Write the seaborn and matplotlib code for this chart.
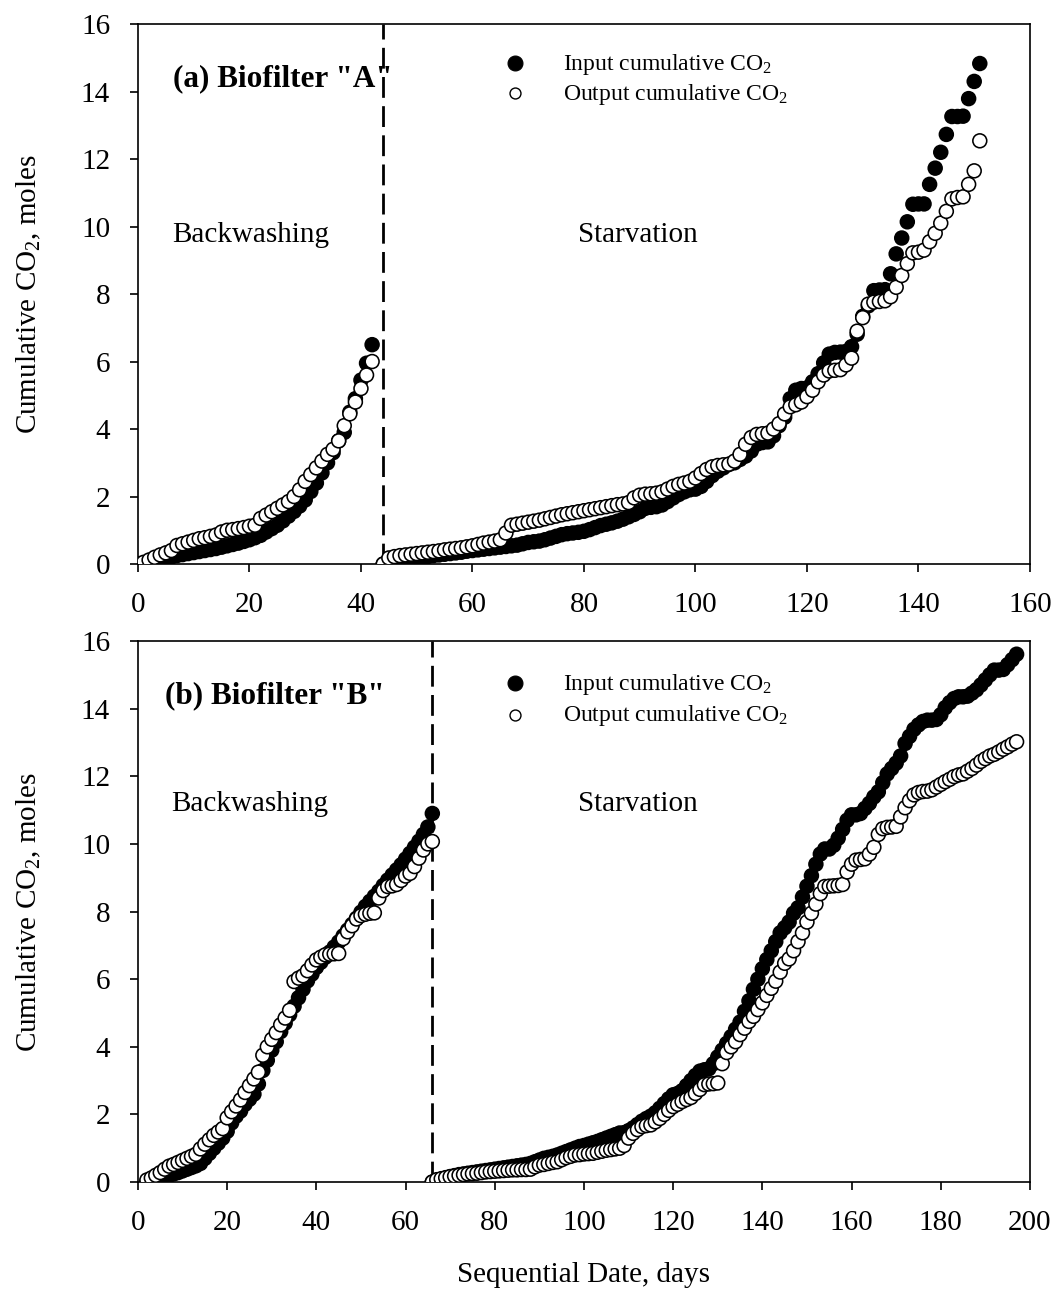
import numpy as np
import pandas as pd
import matplotlib
matplotlib.use("Agg")
import matplotlib.pyplot as plt
import seaborn as sns

# ---------------- data: cumulative CO2 (moles) per day ----------------
# Biofilter A, backwashing phase (days 0-42)
a_back_start = 0
a_back_input = [0.00, 0.03, 0.07, 0.10, 0.14, 0.18, 0.21, 0.25, 0.28, 0.31,
                0.34, 0.37, 0.40, 0.43, 0.46, 0.50, 0.54, 0.58, 0.62, 0.67,
                0.72, 0.78, 0.85, 0.95, 1.05, 1.15, 1.28, 1.42, 1.56, 1.72,
                1.90, 2.15, 2.40, 2.70, 3.00, 3.30, 3.65, 3.90, 4.50, 4.90,
                5.45, 5.95, 6.50]
a_back_output = [0.00, 0.05, 0.12, 0.20, 0.27, 0.33, 0.40, 0.55, 0.60, 0.65,
                 0.70, 0.75, 0.78, 0.82, 0.86, 0.95, 1.00, 1.02, 1.05, 1.08,
                 1.12, 1.15, 1.35, 1.45, 1.55, 1.65, 1.75, 1.85, 2.00, 2.20,
                 2.45, 2.65, 2.85, 3.05, 3.25, 3.40, 3.65, 4.10, 4.45, 4.80,
                 5.20, 5.60, 6.00]
# Biofilter A, starvation phase (days 44-151)
a_starv_start = 44
a_starv_input = [0.00, 0.03, 0.06, 0.09, 0.12, 0.15, 0.17, 0.20, 0.22, 0.25,
                 0.27, 0.29, 0.31, 0.33, 0.35, 0.38, 0.40, 0.42, 0.44, 0.46,
                 0.48, 0.50, 0.52, 0.54, 0.56, 0.60, 0.64, 0.66, 0.68, 0.72,
                 0.77, 0.82, 0.87, 0.90, 0.92, 0.94, 0.97, 1.02, 1.08, 1.14,
                 1.18, 1.22, 1.27, 1.33, 1.40, 1.47, 1.55, 1.65, 1.68, 1.70,
                 1.75, 1.85, 1.96, 2.06, 2.14, 2.20, 2.22, 2.30, 2.45, 2.62,
                 2.75, 2.85, 2.95, 3.00, 3.10, 3.20, 3.35, 3.55, 3.60, 3.62,
                 3.80, 4.10, 4.35, 4.90, 5.15, 5.20, 5.22, 5.40, 5.64, 5.96,
                 6.22, 6.27, 6.28, 6.30, 6.44, 6.81, 7.34, 7.65, 8.10, 8.12,
                 8.13, 8.60, 9.19, 9.66, 10.14, 10.66, 10.67, 10.67, 11.25, 11.73,
                 12.20, 12.73, 13.26, 13.26, 13.27, 13.79, 14.30, 14.83]
a_starv_output = [0.00, 0.18, 0.22, 0.25, 0.27, 0.29, 0.31, 0.33, 0.35, 0.37,
                  0.39, 0.42, 0.44, 0.46, 0.48, 0.51, 0.54, 0.58, 0.62, 0.65,
                  0.68, 0.72, 0.92, 1.15, 1.18, 1.21, 1.24, 1.27, 1.30, 1.34,
                  1.38, 1.42, 1.46, 1.49, 1.52, 1.55, 1.58, 1.61, 1.64, 1.67,
                  1.70, 1.73, 1.76, 1.78, 1.82, 1.96, 2.04, 2.07, 2.08, 2.10,
                  2.14, 2.22, 2.30, 2.36, 2.40, 2.45, 2.55, 2.68, 2.80, 2.88,
                  2.92, 2.94, 2.96, 3.05, 3.25, 3.55, 3.75, 3.84, 3.86, 3.88,
                  4.00, 4.16, 4.45, 4.66, 4.72, 4.80, 4.96, 5.15, 5.40, 5.60,
                  5.72, 5.74, 5.76, 5.90, 6.10, 6.90, 7.30, 7.70, 7.76, 7.78,
                  7.80, 7.92, 8.20, 8.55, 8.90, 9.22, 9.24, 9.30, 9.55, 9.80,
                  10.10, 10.45, 10.82, 10.86, 10.88, 11.25, 11.65, 12.54]

# Biofilter B, backwashing phase (days 2-66)
b_back_start = 2
b_back_input = [0.00, 0.04, 0.08, 0.12, 0.16, 0.20, 0.24, 0.28, 0.33, 0.38,
                0.43, 0.48, 0.55, 0.70, 0.85, 1.00, 1.15, 1.30, 1.50, 1.75,
                1.95, 2.10, 2.30, 2.45, 2.60, 2.90, 3.30, 3.60, 3.90, 4.15,
                4.45, 4.70, 4.95, 5.20, 5.45, 5.70, 5.95, 6.15, 6.35, 6.50,
                6.65, 6.80, 6.95, 7.10, 7.28, 7.45, 7.62, 7.80, 7.98, 8.15,
                8.30, 8.45, 8.60, 8.77, 8.93, 9.08, 9.23, 9.38, 9.55, 9.72,
                9.90, 10.08, 10.28, 10.50, 10.90]
b_back_output = [0.06, 0.12, 0.20, 0.28, 0.38, 0.47, 0.52, 0.58, 0.64, 0.70,
                 0.76, 0.82, 0.98, 1.12, 1.25, 1.38, 1.48, 1.58, 1.90, 2.08,
                 2.25, 2.43, 2.65, 2.85, 3.05, 3.25, 3.75, 4.00, 4.22, 4.42,
                 4.65, 4.85, 5.08, 5.93, 6.03, 6.10, 6.25, 6.42, 6.57, 6.65,
                 6.72, 6.74, 6.75, 6.76, 7.20, 7.40, 7.58, 7.78, 7.88, 7.92,
                 7.95, 7.96, 8.40, 8.62, 8.74, 8.76, 8.80, 8.92, 9.05, 9.13,
                 9.33, 9.58, 9.82, 10.00, 10.07]
# Biofilter B, starvation phase (days 66-197)
b_starv_start = 66
b_starv_input = [0.00, 0.04, 0.08, 0.12, 0.16, 0.19, 0.22, 0.24, 0.26, 0.28,
                 0.30, 0.32, 0.34, 0.36, 0.38, 0.40, 0.42, 0.44, 0.46, 0.48,
                 0.50, 0.52, 0.55, 0.60, 0.65, 0.70, 0.73, 0.76, 0.80, 0.85,
                 0.90, 0.95, 1.00, 1.05, 1.08, 1.12, 1.16, 1.20, 1.25, 1.30,
                 1.35, 1.40, 1.45, 1.46, 1.52, 1.60, 1.70, 1.80, 1.88, 1.95,
                 2.05, 2.18, 2.32, 2.46, 2.58, 2.62, 2.70, 2.85, 3.00, 3.15,
                 3.28, 3.32, 3.35, 3.50, 3.70, 3.90, 4.10, 4.30, 4.52, 4.73,
                 5.05, 5.36, 5.70, 6.00, 6.31, 6.58, 6.84, 7.11, 7.37, 7.52,
                 7.69, 7.95, 8.11, 8.43, 8.75, 9.06, 9.40, 9.70, 9.85, 9.85,
                 9.96, 10.17, 10.43, 10.70, 10.86, 10.86, 10.90, 11.05, 11.20, 11.39,
                 11.54, 11.81, 12.07, 12.23, 12.39, 12.60, 12.97, 13.18, 13.39, 13.52,
                 13.62, 13.66, 13.66, 13.68, 13.82, 14.03, 14.18, 14.30, 14.35, 14.35,
                 14.37, 14.46, 14.56, 14.70, 14.85, 15.00, 15.14, 15.14, 15.16, 15.30,
                 15.45, 15.61]
b_starv_output = [0.00, 0.07, 0.10, 0.13, 0.16, 0.18, 0.20, 0.22, 0.24, 0.25,
                  0.26, 0.28, 0.30, 0.31, 0.32, 0.33, 0.34, 0.35, 0.36, 0.36,
                  0.37, 0.37, 0.38, 0.45, 0.50, 0.52, 0.55, 0.58, 0.60, 0.66,
                  0.72, 0.76, 0.80, 0.81, 0.83, 0.84, 0.85, 0.88, 0.91, 0.94,
                  0.96, 0.98, 1.00, 1.08, 1.30, 1.44, 1.55, 1.64, 1.67, 1.69,
                  1.78, 1.88, 2.00, 2.12, 2.23, 2.30, 2.38, 2.44, 2.50, 2.62,
                  2.74, 2.88, 2.90, 2.91, 2.93, 3.50, 3.83, 4.00, 4.15, 4.36,
                  4.55, 4.75, 4.90, 5.10, 5.30, 5.52, 5.73, 5.94, 6.21, 6.47,
                  6.60, 6.84, 7.11, 7.37, 7.69, 7.95, 8.22, 8.53, 8.74, 8.75,
                  8.76, 8.77, 8.80, 9.17, 9.40, 9.52, 9.54, 9.56, 9.70, 9.90,
                  10.28, 10.45, 10.49, 10.50, 10.52, 10.80, 11.07, 11.28, 11.45, 11.52,
                  11.55, 11.56, 11.60, 11.68, 11.76, 11.84, 11.91, 11.99, 12.04, 12.07,
                  12.15, 12.23, 12.33, 12.44, 12.52, 12.60, 12.65, 12.72, 12.80, 12.87,
                  12.95, 13.02]

# phase switch days (backwashing -> starvation)
a_switch_day = 44
b_switch_day = 66

series_names = ["Input cumulative CO$_2$", "Output cumulative CO$_2$"]
a_xticks = [0, 20, 40, 60, 80, 100, 120, 140, 160]
b_xticks = [0, 20, 40, 60, 80, 100, 120, 140, 160, 180, 200]
yticks = [0, 2, 4, 6, 8, 10, 12, 14, 16]


def build_frame(back_start, back_in, back_out, starv_start, starv_in, starv_out):
    """Long-form table: all input points first, then output points on top."""
    parts = []
    for name, back, starv in ((series_names[0], back_in, starv_in),
                              (series_names[1], back_out, starv_out)):
        days = np.concatenate([back_start + np.arange(len(back)),
                               starv_start + np.arange(len(starv))])
        vals = np.concatenate([back, starv])
        parts.append(pd.DataFrame({"day": days, "co2": vals, "series": name}))
    return pd.concat(parts, ignore_index=True)


df_a = build_frame(a_back_start, a_back_input, a_back_output,
                   a_starv_start, a_starv_input, a_starv_output)
df_b = build_frame(b_back_start, b_back_input, b_back_output,
                   b_starv_start, b_starv_input, b_starv_output)

# ---------------- style ----------------
sns.set_theme(style="ticks")
plt.rcParams["font.family"] = ["Liberation Serif", "DejaVu Serif"]
plt.rcParams["mathtext.fontset"] = "custom"
plt.rcParams["mathtext.rm"] = "Liberation Serif"
plt.rcParams["mathtext.it"] = "Liberation Serif:italic"
plt.rcParams["mathtext.bf"] = "Liberation Serif:bold"
for key in ("text.color", "axes.labelcolor", "xtick.color", "ytick.color", "axes.edgecolor"):
    plt.rcParams[key] = "black"

palette = {series_names[0]: "black", series_names[1]: "white"}

fig = plt.figure(figsize=(10.58, 12.91), dpi=100)
ax_a = fig.add_axes([0.1304, 0.5631, 0.8431, 0.41828])
ax_b = fig.add_axes([0.1304, 0.0844, 0.8431, 0.41906])

panels = [
    (ax_a, df_a, a_xticks, a_switch_day, '(a) Biofilter "A"',
     (6.3, 14.16), (6.1, 9.54), (78.9, 9.54), (0.9148, 0.8593), (0.9278, 0.8722)),
    (ax_b, df_b, b_xticks, b_switch_day, '(b) Biofilter "B"',
     (6.0, 14.16), (7.55, 10.96), (98.6, 10.96), (0.9095, 0.8521), (0.9224, 0.8632)),
]

for (ax, df, xt, switch, title, title_xy, back_xy, starv_xy,
     leg_text_y, leg_mark_y) in panels:
    sns.scatterplot(data=df, x="day", y="co2", hue="series", palette=palette,
                    edgecolor="black", linewidth=1.15, s=100, marker="o",
                    legend=False, ax=ax, zorder=3)
    ax.axvline(switch, color="black", lw=2.0, linestyle=(0, (7.5, 3.0)), zorder=2)

    ax.set_xlim(xt[0], xt[-1])
    ax.set_ylim(yticks[0], yticks[-1])
    ax.set_xticks(xt)
    ax.set_yticks(yticks)
    ax.tick_params(axis="both", direction="out", length=6, width=1.2,
                   labelsize=21, top=False, right=False)
    ax.tick_params(axis="x", pad=14)
    ax.tick_params(axis="y", pad=14)
    for sp in ax.spines.values():
        sp.set_visible(True)
        sp.set_linewidth(1.2)
        sp.set_color("black")

    ax.set_xlabel("")
    ax.set_ylabel("Cumulative CO$_2$, moles", fontsize=21)
    ax.yaxis.set_label_coords(-0.107, 0.5)

    ax.text(*title_xy, title, fontsize=22.5, fontweight="bold", va="baseline", ha="left")
    ax.text(*back_xy, "Backwashing", fontsize=21, va="baseline", ha="left")
    ax.text(*starv_xy, "Starvation", fontsize=21, va="baseline", ha="left")

    # legend entries
    ax.scatter([0.4226], [leg_mark_y[0]], s=115, color="black", edgecolor="black",
               linewidth=0.8, transform=ax.transAxes, clip_on=False, zorder=5)
    ax.scatter([0.4226], [leg_mark_y[1]], s=62, color="white", edgecolor="black",
               linewidth=1.0, transform=ax.transAxes, clip_on=False, zorder=5)
    ax.text(0.4765, leg_text_y[0], series_names[0], fontsize=17,
            transform=ax.transAxes, va="baseline", ha="left")
    ax.text(0.4765, leg_text_y[1], series_names[1], fontsize=17,
            transform=ax.transAxes, va="baseline", ha="left")

ax_b.set_xlabel("Sequential Date, days", fontsize=21)
ax_b.xaxis.set_label_coords(0.5, -0.147)

fig.savefig("out.png", dpi=100)
